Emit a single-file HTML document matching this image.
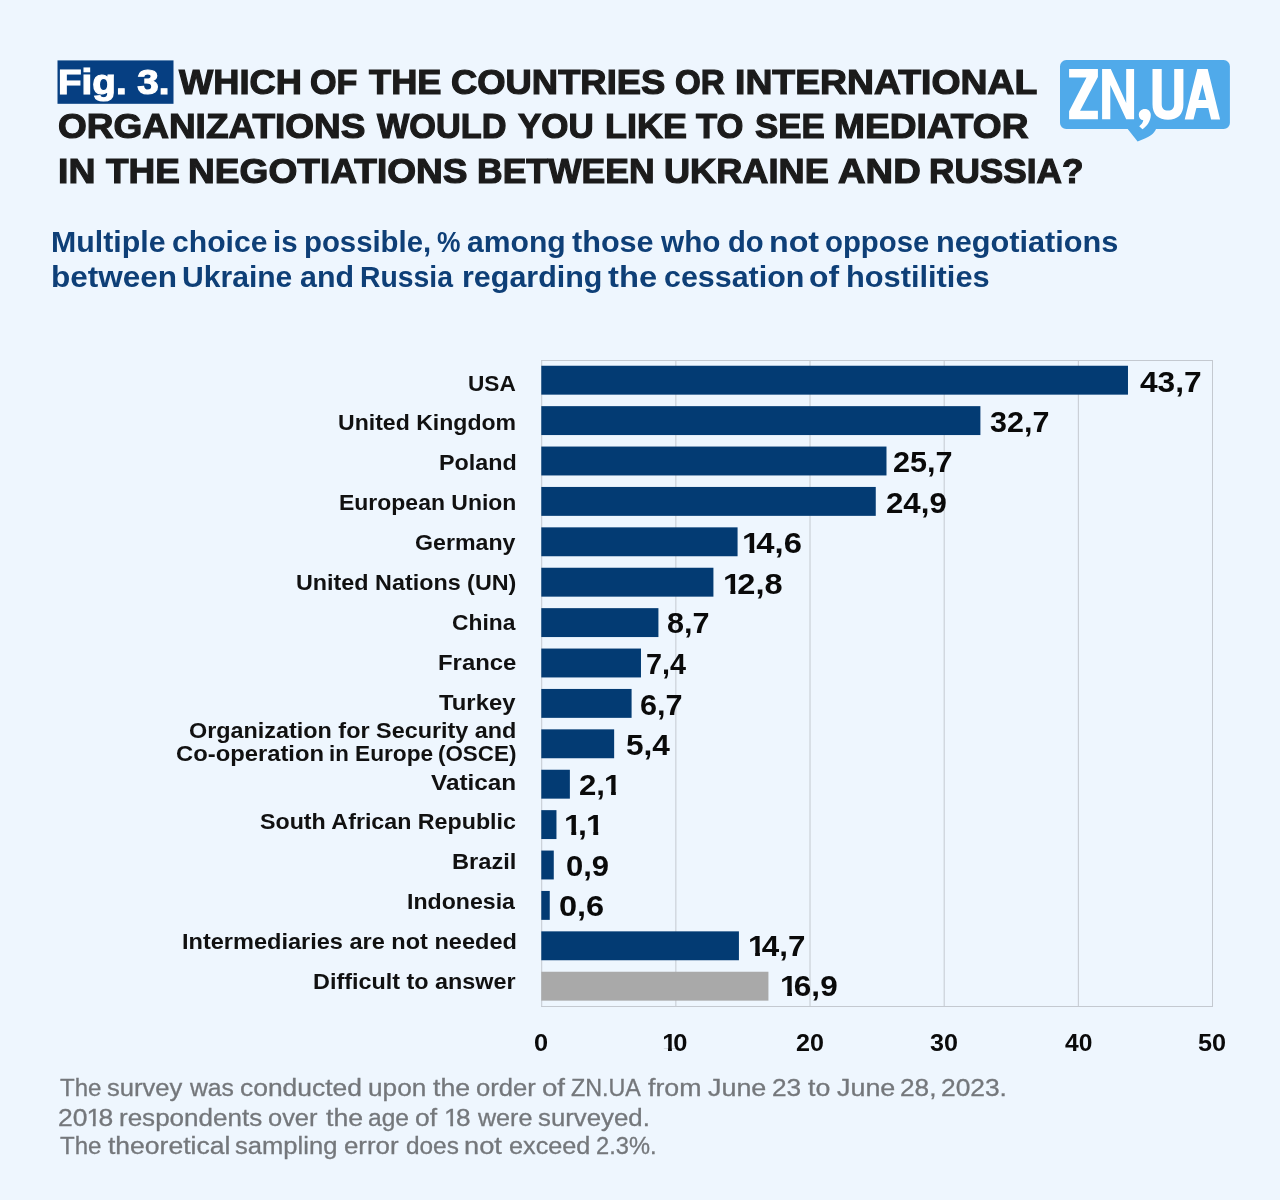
<!DOCTYPE html>
<html lang="en"><head><meta charset="utf-8"><title>Fig. 3</title>
<style>
html,body{margin:0;padding:0;}
body{width:1280px;height:1200px;background:#eef6fe;position:relative;overflow:hidden;font-family:"Liberation Sans",sans-serif;}
#txt{position:absolute;left:0;top:0;width:1280px;height:1200px;will-change:transform;}
.t{position:absolute;white-space:nowrap;line-height:1;transform-origin:0 0;margin:0;padding:0;}
.ttl{font-weight:bold;color:#1b1b1b;-webkit-text-stroke:1.2px #1b1b1b;}
.ttl.w{color:#fff;-webkit-text-stroke:1.2px #fff;}
.sub{font-weight:bold;color:#0e3f77;}
.lab{font-weight:bold;color:#111;}
.val{font-weight:bold;color:#0a0a0a;}
.ax{font-weight:bold;color:#0a0a0a;}
.o{display:inline-block;margin:0 -0.12em 0 -0.03em;clip-path:polygon(0 0,100% 0,100% 72.4%,68% 72.4%,68% 100%,40.5% 100%,40.5% 72.4%,0 72.4%);}
.o.r{margin:0 -0.1em 0 -0.04em;clip-path:polygon(0 0,100% 0,100% 75.4%,62.5% 75.4%,62.5% 100%,43.8% 100%,43.8% 75.4%,0 75.4%);}
.ft{color:#74777b;-webkit-text-stroke:0.3px #74777b;}
</style></head>
<body>
<svg style="position:absolute;left:0;top:0" width="1280" height="1200" viewBox="0 0 1280 1200">
<rect x="57.5" y="60.4" width="116" height="43.4" fill="#063f82"/>
<g fill="#c4c9d0">
<rect x="541.20" y="360.00" width="671.80" height="1"/>
<rect x="541.20" y="1006.00" width="671.80" height="1"/>
<rect x="541.20" y="360.00" width="1" height="647.00"/>
<rect x="675.36" y="360.00" width="1" height="647.00"/>
<rect x="809.52" y="360.00" width="1" height="647.00"/>
<rect x="943.68" y="360.00" width="1" height="647.00"/>
<rect x="1077.84" y="360.00" width="1" height="647.00"/>
<rect x="1212.00" y="360.00" width="1" height="647.00"/>
</g>
<g fill="#033b73">
<rect x="541.30" y="365.75" width="586.68" height="28.90"/>
<rect x="541.30" y="406.15" width="439.10" height="28.90"/>
<rect x="541.30" y="446.55" width="345.19" height="28.90"/>
<rect x="541.30" y="486.95" width="334.46" height="28.90"/>
<rect x="541.30" y="527.35" width="196.27" height="28.90"/>
<rect x="541.30" y="567.75" width="172.12" height="28.90"/>
<rect x="541.30" y="608.15" width="117.12" height="28.90"/>
<rect x="541.30" y="648.55" width="99.68" height="28.90"/>
<rect x="541.30" y="688.95" width="90.29" height="28.90"/>
<rect x="541.30" y="729.35" width="72.85" height="28.90"/>
<rect x="541.30" y="769.75" width="28.57" height="28.90"/>
<rect x="541.30" y="810.15" width="15.16" height="28.90"/>
<rect x="541.30" y="850.55" width="12.47" height="28.90"/>
<rect x="541.30" y="890.95" width="8.45" height="28.90"/>
<rect x="541.30" y="931.35" width="197.62" height="28.90"/>
<rect x="541.30" y="971.75" width="227.13" height="28.90" fill="#a9a9a9"/>
</g>
</svg>
<svg id="logo" style="position:absolute;left:1050px;top:50px" width="200" height="100" viewBox="1050 50 200 100">
<path fill="#50aaea" d="M1066.2,60.1 H1223.7 a6.2,6.2 0 0 1 6.2,6.2 V122.9 a6.2,6.2 0 0 1 -6.2,6.2 H1156 C1154.5,133.2 1150,137.6 1137.6,141.4 L1127.7,129.1 H1066.2 a6.2,6.2 0 0 1 -6.2,-6.2 V66.3 a6.2,6.2 0 0 1 6.2,-6.2 Z"/>
<g fill="#fff">
<path d="M1069.1,68.9 H1097.9 V77 L1080.1,110.8 H1097.9 V119.3 H1069.1 V111.2 L1086.5,77.4 H1069.1 Z"/>
<path d="M1102.1,119.3 V68.9 H1110.8 L1126.2,103 V68.9 H1134.1 V119.3 H1126.2 L1110.3,85 V119.3 Z"/>
<path d="M1144.8,108.9 C1148.5,108.9 1150.8,111.5 1150.8,115 C1150.8,121 1147,126 1142.5,129.3 L1139.2,126.2 C1141.5,124.5 1143,122.5 1143.3,120.3 C1140.5,120 1138.8,117.7 1138.8,114.8 C1138.8,111.5 1141.3,108.9 1144.8,108.9 Z"/>
<path d="M1152.5,68.9 H1161.7 V104 C1161.7,108.5 1164,110.6 1168,110.6 C1172,110.6 1174.2,108.5 1174.2,104 V68.9 H1183.4 V104.5 C1183.4,114.5 1177.5,119.8 1168,119.8 C1158.5,119.8 1152.5,114.5 1152.5,104.5 Z"/>
<path fill-rule="evenodd" d="M1184.7,119.5 L1197.3,68.9 H1207.7 L1220.1,119.5 H1211.1 L1208.3,108 H1196.4 L1193.5,119.5 Z M1202.4,84.6 L1198.4,99.9 H1206.3 Z"/>
</g>
</svg>
<div id="txt">
<div class="t ttl w" id="fig" style="left:57.92px;top:64.61px;font-size:35.4px;transform:scaleX(1.0907)">Fig. 3.</div>
<div class="t ttl" id="t1_0" style="left:178.80px;top:65.11px;font-size:35.4px;transform:scaleX(1.0241)">WHICH</div>
<div class="t ttl" id="t1_1" style="left:309.87px;top:65.11px;font-size:35.4px;transform:scaleX(0.9652)">OF</div>
<div class="t ttl" id="t1_2" style="left:368.63px;top:65.11px;font-size:35.4px;transform:scaleX(1.0248)">THE</div>
<div class="t ttl" id="t1_3" style="left:451.14px;top:65.11px;font-size:35.4px;transform:scaleX(1.0281)">COUNTRIES</div>
<div class="t ttl" id="t1_4" style="left:674.91px;top:65.11px;font-size:35.4px;transform:scaleX(0.9353)">OR</div>
<div class="t ttl" id="t1_5" style="left:735.47px;top:65.11px;font-size:35.4px;transform:scaleX(1.0558)">INTERNATIONAL</div>
<div class="t ttl" id="t2_0" style="left:58.47px;top:109.11px;font-size:35.4px;transform:scaleX(1.0446)">ORGANIZATIONS</div>
<div class="t ttl" id="t2_1" style="left:377.02px;top:109.11px;font-size:35.4px;transform:scaleX(0.9686)">WOULD</div>
<div class="t ttl" id="t2_2" style="left:517.77px;top:109.11px;font-size:35.4px;transform:scaleX(0.9885)">YOU</div>
<div class="t ttl" id="t2_3" style="left:605.42px;top:109.11px;font-size:35.4px;transform:scaleX(1.0160)">LIKE</div>
<div class="t ttl" id="t2_4" style="left:695.97px;top:109.11px;font-size:35.4px;transform:scaleX(0.9769)">TO</div>
<div class="t ttl" id="t2_5" style="left:754.51px;top:109.11px;font-size:35.4px;transform:scaleX(0.9844)">SEE</div>
<div class="t ttl" id="t2_6" style="left:833.61px;top:109.11px;font-size:35.4px;transform:scaleX(1.0483)">MEDIATOR</div>
<div class="t ttl" id="t3_0" style="left:58.41px;top:154.11px;font-size:35.4px;transform:scaleX(1.0572)">IN</div>
<div class="t ttl" id="t3_1" style="left:105.69px;top:154.11px;font-size:35.4px;transform:scaleX(1.0437)">THE</div>
<div class="t ttl" id="t3_2" style="left:187.65px;top:154.11px;font-size:35.4px;transform:scaleX(1.0482)">NEGOTIATIONS</div>
<div class="t ttl" id="t3_3" style="left:476.65px;top:154.11px;font-size:35.4px;transform:scaleX(1.0041)">BETWEEN</div>
<div class="t ttl" id="t3_4" style="left:664.20px;top:154.11px;font-size:35.4px;transform:scaleX(1.0219)">UKRAINE</div>
<div class="t ttl" id="t3_5" style="left:838.33px;top:154.11px;font-size:35.4px;transform:scaleX(1.0786)">AND</div>
<div class="t ttl" id="t3_6" style="left:929.25px;top:154.11px;font-size:35.4px;transform:scaleX(0.9945)">RUSSIA?</div>
<div class="t sub" id="s1_0" style="left:50.54px;top:228.45px;font-size:29px;transform:scaleX(1.0451)">Multiple</div>
<div class="t sub" id="s1_1" style="left:172.31px;top:228.45px;font-size:29px;transform:scaleX(1.0395)">choice</div>
<div class="t sub" id="s1_2" style="left:273.04px;top:228.45px;font-size:29px;transform:scaleX(1.0149)">is</div>
<div class="t sub" id="s1_3" style="left:303.99px;top:228.45px;font-size:29px;transform:scaleX(1.0116)">possible,</div>
<div class="t sub" id="s1_4" style="left:436.83px;top:228.45px;font-size:29px;transform:scaleX(0.9098)">%</div>
<div class="t sub" id="s1_5" style="left:466.96px;top:228.45px;font-size:29px;transform:scaleX(1.0384)">among</div>
<div class="t sub" id="s1_6" style="left:572.31px;top:228.45px;font-size:29px;transform:scaleX(1.0557)">those</div>
<div class="t sub" id="s1_7" style="left:660.72px;top:228.45px;font-size:29px;transform:scaleX(1.0253)">who</div>
<div class="t sub" id="s1_8" style="left:727.65px;top:228.45px;font-size:29px;transform:scaleX(1.0082)">do</div>
<div class="t sub" id="s1_9" style="left:769.24px;top:228.45px;font-size:29px;transform:scaleX(1.1113)">not</div>
<div class="t sub" id="s1_10" style="left:825.33px;top:228.45px;font-size:29px;transform:scaleX(1.0109)">oppose</div>
<div class="t sub" id="s1_11" style="left:936.19px;top:228.45px;font-size:29px;transform:scaleX(1.0582)">negotiations</div>
<div class="t sub" id="s2_0" style="left:50.56px;top:263.45px;font-size:29px;transform:scaleX(1.0865)">between</div>
<div class="t sub" id="s2_1" style="left:182.39px;top:263.45px;font-size:29px;transform:scaleX(1.0373)">Ukraine</div>
<div class="t sub" id="s2_2" style="left:299.95px;top:263.45px;font-size:29px;transform:scaleX(1.0482)">and</div>
<div class="t sub" id="s2_3" style="left:360.02px;top:263.45px;font-size:29px;transform:scaleX(0.9775)">Russia</div>
<div class="t sub" id="s2_4" style="left:461.95px;top:263.45px;font-size:29px;transform:scaleX(1.0501)">regarding</div>
<div class="t sub" id="s2_5" style="left:608.47px;top:263.45px;font-size:29px;transform:scaleX(1.1282)">the</div>
<div class="t sub" id="s2_6" style="left:663.71px;top:263.45px;font-size:29px;transform:scaleX(1.0485)">cessation</div>
<div class="t sub" id="s2_7" style="left:809.43px;top:263.45px;font-size:29px;transform:scaleX(1.0969)">of</div>
<div class="t sub" id="s2_8" style="left:845.76px;top:263.45px;font-size:29px;transform:scaleX(1.0613)">hostilities</div>
<div class="t lab" id="l0" style="left:468.39px;top:373.38px;font-size:22px;transform:scaleX(1.0289)">USA</div>
<div class="t val" id="v0" style="left:1140.29px;top:366.73px;font-size:29.5px;transform:scaleX(1.0742)">43,7</div>
<div class="t lab" id="l1" style="left:338.13px;top:412.38px;font-size:22px;transform:scaleX(1.0482)">United Kingdom</div>
<div class="t val" id="v1" style="left:990.03px;top:407.49px;font-size:29.5px;transform:scaleX(1.0335)">32,7</div>
<div class="t lab" id="l2" style="left:439.22px;top:452.38px;font-size:22px;transform:scaleX(1.0601)">Poland</div>
<div class="t val" id="v2" style="left:892.95px;top:447.25px;font-size:29.5px;transform:scaleX(1.0375)">25,7</div>
<div class="t lab" id="l3" style="left:338.51px;top:492.38px;font-size:22px;transform:scaleX(1.0442)">European Union</div>
<div class="t val" id="v3" style="left:886.20px;top:488.01px;font-size:29.5px;transform:scaleX(1.0588)">24,9</div>
<div class="t lab" id="l4" style="left:414.93px;top:532.38px;font-size:22px;transform:scaleX(1.0532)">Germany</div>
<div class="t val" id="v4" style="left:742.64px;top:527.77px;font-size:29.5px;transform:scaleX(1.1106)"><span class="o">1</span>4,6</div>
<div class="t lab" id="l5" style="left:295.85px;top:572.38px;font-size:22px;transform:scaleX(1.0606)">United Nations (UN)</div>
<div class="t val" id="v5" style="left:724.18px;top:568.53px;font-size:29.5px;transform:scaleX(1.1048)"><span class="o">1</span>2,8</div>
<div class="t lab" id="l6" style="left:451.99px;top:612.38px;font-size:22px;transform:scaleX(1.0361)">China</div>
<div class="t val" id="v6" style="left:666.82px;top:608.29px;font-size:29.5px;transform:scaleX(1.0360)">8,7</div>
<div class="t lab" id="l7" style="left:437.74px;top:652.38px;font-size:22px;transform:scaleX(1.0869)">France</div>
<div class="t val" id="v7" style="left:646.21px;top:649.05px;font-size:29.5px;transform:scaleX(0.9759)">7,4</div>
<div class="t lab" id="l8" style="left:438.58px;top:692.38px;font-size:22px;transform:scaleX(1.0842)">Turkey</div>
<div class="t val" id="v8" style="left:639.67px;top:689.81px;font-size:29.5px;transform:scaleX(1.0374)">6,7</div>
<div class="t lab" id="l9a" style="left:188.95px;top:720.38px;font-size:22px;transform:scaleX(1.0627)">Organization for Security and</div>
<div class="t lab" id="l9b_0" style="left:175.75px;top:743.08px;font-size:22px;transform:scaleX(1.0816)">Co-operation</div>
<div class="t lab" id="l9b_1" style="left:328.80px;top:743.08px;font-size:22px;transform:scaleX(1.0110)">in</div>
<div class="t lab" id="l9b_2" style="left:354.89px;top:743.08px;font-size:22px;transform:scaleX(1.0308)">Europe</div>
<div class="t lab" id="l9b_3" style="left:437.83px;top:743.08px;font-size:22px;transform:scaleX(1.0175)">(OSCE)</div>
<div class="t val" id="v9" style="left:625.77px;top:729.57px;font-size:29.5px;transform:scaleX(1.0714)">5,4</div>
<div class="t lab" id="l10" style="left:431.27px;top:772.38px;font-size:22px;transform:scaleX(1.1064)">Vatican</div>
<div class="t val" id="v10" style="left:578.99px;top:770.33px;font-size:29.5px;transform:scaleX(1.0557)">2,<span class="o">1</span></div>
<div class="t lab" id="l11" style="left:260.32px;top:811.38px;font-size:22px;transform:scaleX(1.0556)">South African Republic</div>
<div class="t val" id="v11" style="left:565.37px;top:810.09px;font-size:29.5px;transform:scaleX(1.0887)"><span class="o">1</span>,<span class="o">1</span></div>
<div class="t lab" id="l12" style="left:451.92px;top:851.38px;font-size:22px;transform:scaleX(1.0743)">Brazil</div>
<div class="t val" id="v12" style="left:565.77px;top:850.85px;font-size:29.5px;transform:scaleX(1.0503)">0,9</div>
<div class="t lab" id="l13" style="left:407.32px;top:891.38px;font-size:22px;transform:scaleX(1.0510)">Indonesia</div>
<div class="t val" id="v13" style="left:559.11px;top:890.61px;font-size:29.5px;transform:scaleX(1.1022)">0,6</div>
<div class="t lab" id="l14" style="left:181.91px;top:931.38px;font-size:22px;transform:scaleX(1.0700)">Intermediaries are not needed</div>
<div class="t val" id="v14" style="left:749.08px;top:931.37px;font-size:29.5px;transform:scaleX(1.0621)"><span class="o">1</span>4,7</div>
<div class="t lab" id="l15" style="left:313.13px;top:971.38px;font-size:22px;transform:scaleX(1.0627)">Difficult to answer</div>
<div class="t val" id="v15" style="left:780.91px;top:971.13px;font-size:29.5px;transform:scaleX(1.0687)"><span class="o">1</span>6,9</div>
<div class="t ax" id="a0" style="left:534.24px;top:1031.73px;font-size:23px;transform:scaleX(1.1024)">0</div>
<div class="t ax" id="a1" style="left:662.92px;top:1031.73px;font-size:23px;transform:scaleX(1.1085)"><span class="o">1</span>0</div>
<div class="t ax" id="a2" style="left:795.51px;top:1031.73px;font-size:23px;transform:scaleX(1.0906)">20</div>
<div class="t ax" id="a3" style="left:930.45px;top:1031.73px;font-size:23px;transform:scaleX(1.0930)">30</div>
<div class="t ax" id="a4" style="left:1064.82px;top:1031.73px;font-size:23px;transform:scaleX(1.0692)">40</div>
<div class="t ax" id="a5" style="left:1197.88px;top:1031.73px;font-size:23px;transform:scaleX(1.0981)">50</div>
<div class="t ft" id="f1_0" style="left:59.53px;top:1076.99px;font-size:23px;transform:scaleX(1.0461)">The</div>
<div class="t ft" id="f1_1" style="left:106.51px;top:1076.99px;font-size:23px;transform:scaleX(1.1107)">survey</div>
<div class="t ft" id="f1_2" style="left:190.31px;top:1076.99px;font-size:23px;transform:scaleX(1.0736)">was</div>
<div class="t ft" id="f1_3" style="left:239.71px;top:1076.99px;font-size:23px;transform:scaleX(1.1489)">conducted</div>
<div class="t ft" id="f1_4" style="left:367.80px;top:1076.99px;font-size:23px;transform:scaleX(1.1386)">upon</div>
<div class="t ft" id="f1_5" style="left:433.24px;top:1076.99px;font-size:23px;transform:scaleX(1.1606)">the</div>
<div class="t ft" id="f1_6" style="left:475.82px;top:1076.99px;font-size:23px;transform:scaleX(1.1137)">order</div>
<div class="t ft" id="f1_7" style="left:541.64px;top:1076.99px;font-size:23px;transform:scaleX(1.2002)">of</div>
<div class="t ft" id="f1_8" style="left:571.05px;top:1076.99px;font-size:23px;transform:scaleX(1.0123)">ZN.UA</div>
<div class="t ft" id="f1_9" style="left:648.09px;top:1076.99px;font-size:23px;transform:scaleX(1.1631)">from</div>
<div class="t ft" id="f1_10" style="left:708.44px;top:1076.99px;font-size:23px;transform:scaleX(1.1695)">June</div>
<div class="t ft" id="f1_11" style="left:771.66px;top:1076.99px;font-size:23px;transform:scaleX(1.1404)">23</div>
<div class="t ft" id="f1_12" style="left:807.66px;top:1076.99px;font-size:23px;transform:scaleX(1.1604)">to</div>
<div class="t ft" id="f1_13" style="left:836.70px;top:1076.99px;font-size:23px;transform:scaleX(1.1695)">June</div>
<div class="t ft" id="f1_14" style="left:899.95px;top:1076.99px;font-size:23px;transform:scaleX(1.1397)">28,</div>
<div class="t ft" id="f1_15" style="left:941.15px;top:1076.99px;font-size:23px;transform:scaleX(1.1452)">2023.</div>
<div class="t ft" id="f2_0" style="left:58.12px;top:1106.69px;font-size:23px;transform:scaleX(1.1505)">20<span class="o r">1</span>8</div>
<div class="t ft" id="f2_1" style="left:118.60px;top:1106.69px;font-size:23px;transform:scaleX(1.1307)">respondents</div>
<div class="t ft" id="f2_2" style="left:268.42px;top:1106.69px;font-size:23px;transform:scaleX(1.1053)">over</div>
<div class="t ft" id="f2_3" style="left:325.70px;top:1106.69px;font-size:23px;transform:scaleX(1.1606)">the</div>
<div class="t ft" id="f2_4" style="left:367.93px;top:1106.69px;font-size:23px;transform:scaleX(1.0660)">age</div>
<div class="t ft" id="f2_5" style="left:414.85px;top:1106.69px;font-size:23px;transform:scaleX(1.1467)">of</div>
<div class="t ft" id="f2_6" style="left:444.68px;top:1106.69px;font-size:23px;transform:scaleX(1.1365)"><span class="o r">1</span>8</div>
<div class="t ft" id="f2_7" style="left:478.31px;top:1106.69px;font-size:23px;transform:scaleX(1.0904)">were</div>
<div class="t ft" id="f2_8" style="left:538.20px;top:1106.69px;font-size:23px;transform:scaleX(1.1213)">surveyed.</div>
<div class="t ft" id="f3_0" style="left:59.53px;top:1135.49px;font-size:23px;transform:scaleX(1.0461)">The</div>
<div class="t ft" id="f3_1" style="left:107.72px;top:1135.49px;font-size:23px;transform:scaleX(1.1526)">theoretical</div>
<div class="t ft" id="f3_2" style="left:235.30px;top:1135.49px;font-size:23px;transform:scaleX(1.1121)">sampling</div>
<div class="t ft" id="f3_3" style="left:343.62px;top:1135.49px;font-size:23px;transform:scaleX(1.1235)">error</div>
<div class="t ft" id="f3_4" style="left:405.65px;top:1135.49px;font-size:23px;transform:scaleX(1.0588)">does</div>
<div class="t ft" id="f3_5" style="left:464.24px;top:1135.49px;font-size:23px;transform:scaleX(1.1870)">not</div>
<div class="t ft" id="f3_6" style="left:508.78px;top:1135.49px;font-size:23px;transform:scaleX(1.0971)">exceed</div>
<div class="t ft" id="f3_7" style="left:596.17px;top:1135.49px;font-size:23px;transform:scaleX(1.0287)">2.3%.</div>
</div>
</body></html>
